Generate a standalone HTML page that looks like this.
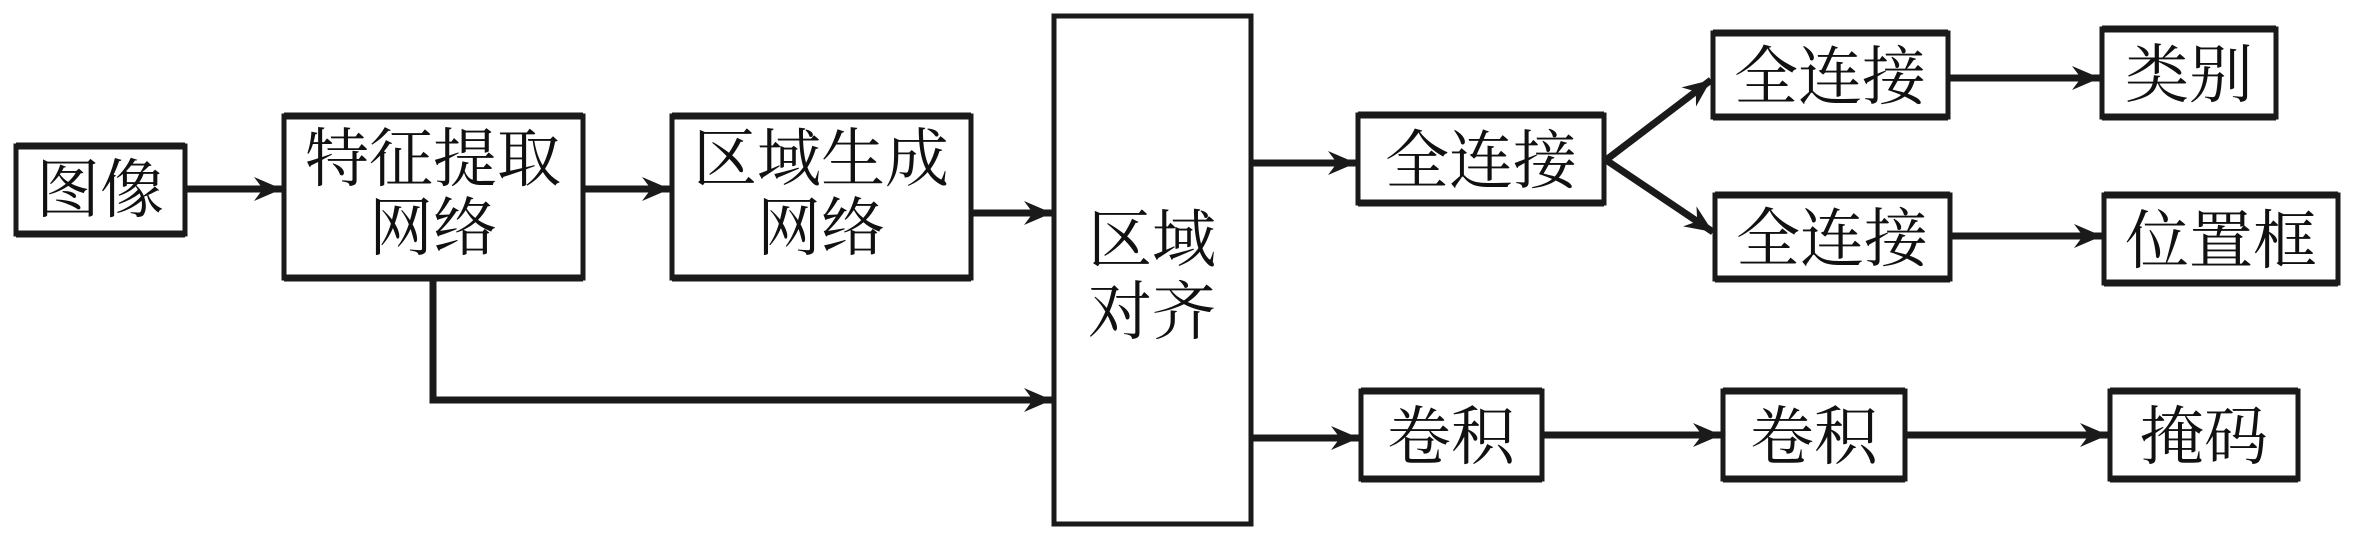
<!DOCTYPE html>
<html><head><meta charset="utf-8"><style>
html,body{margin:0;padding:0;background:#fff;width:2354px;height:538px;overflow:hidden}
</style></head><body>
<svg width="2354" height="538" viewBox="0 0 2354 538" xmlns="http://www.w3.org/2000/svg">
<defs>
<marker id="a" markerWidth="30" markerHeight="24" refX="28" refY="12" orient="auto" markerUnits="userSpaceOnUse">
<path d="M0,0 L28,12 L0,24 L9,12 Z" fill="#1a1a1a"/>
</marker>
</defs>
<g fill="none" stroke="#1a1a1a" stroke-width="5">
<rect x="16" y="146" width="169" height="88"/>
<rect x="284" y="116" width="299" height="162"/>
<rect x="672" y="116" width="299" height="162"/>
<rect x="1054" y="16" width="197" height="508"/>
<rect x="1358" y="115" width="246" height="88"/>
<rect x="1713" y="33" width="235" height="84"/>
<rect x="1715" y="195" width="235" height="84"/>
<rect x="2102" y="29" width="174" height="88"/>
<rect x="2104" y="195" width="234" height="88"/>
<rect x="1361" y="391" width="181" height="88"/>
<rect x="1723" y="391" width="182" height="88"/>
<rect x="2110" y="391" width="188" height="88"/>
</g>
<g stroke="#1a1a1a" stroke-width="7" fill="none">
<path d="M16,146h169M16,234h169M284,116h299M284,278h299M672,116h299M672,278h299M1358,115h246M1358,203h246M1713,33h235M1713,117h235M1715,195h235M1715,279h235M2102,29h174M2102,117h174M2104,195h234M2104,283h234M1361,391h181M1361,479h181M1723,391h182M1723,479h182M2110,391h188M2110,479h188"/>
</g>
<g fill="none" stroke="#1a1a1a" stroke-width="7" marker-end="url(#a)">
<line x1="187" y1="189" x2="282" y2="189"/>
<line x1="585" y1="189" x2="670" y2="189"/>
<line x1="973" y1="213" x2="1052" y2="213"/>
<polyline points="433,279 433,400 1052,400"/>
<line x1="1253" y1="163" x2="1356" y2="163"/>
<line x1="1253" y1="438" x2="1359" y2="438"/>
<line x1="1606" y1="160" x2="1711" y2="80"/>
<line x1="1606" y1="160" x2="1713" y2="232"/>
<line x1="1950" y1="78" x2="2100" y2="78"/>
<line x1="1952" y1="236" x2="2102" y2="236"/>
<line x1="1544" y1="435" x2="1721" y2="435"/>
<line x1="1907" y1="435" x2="2108" y2="435"/>
</g>
<g font-family="'Liberation Serif','Noto Serif CJK SC',serif" font-size="64" fill="#111" text-anchor="middle">
<text x="100" y="212">图像</text>
<text x="433" y="181">特征提取</text>
<text x="433" y="250">网络</text>
<text x="821" y="181">区域生成</text>
<text x="821" y="250">网络</text>
<text x="1152" y="262">区域</text>
<text x="1152" y="334">对齐</text>
<text x="1481" y="183">全连接</text>
<text x="1830" y="99">全连接</text>
<text x="1832" y="261">全连接</text>
<text x="2189" y="97">类别</text>
<text x="2221" y="263">位置框</text>
<text x="1451" y="459">卷积</text>
<text x="1814" y="459">卷积</text>
<text x="2204" y="459">掩码</text>
</g>
</svg>
</body></html>
